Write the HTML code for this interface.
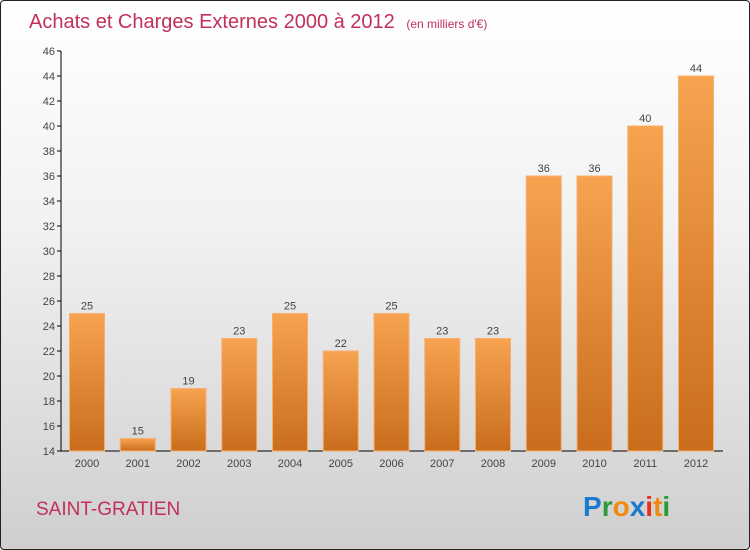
<!DOCTYPE html>
<html><head><meta charset="utf-8"><style>
body{margin:0}
#c{width:748px;height:548px;border:1px solid #222;border-radius:4px;background:linear-gradient(#ffffff,#f2f2f2 40%,#cfcfcf);position:relative;overflow:hidden;font-family:"Liberation Sans",sans-serif}
</style></head><body>
<div id="c">
<svg width="748" height="548" id="s">
<defs><linearGradient id="g" x1="0" y1="0" x2="0" y2="1"><stop offset="0" stop-color="#f7a350"/><stop offset="1" stop-color="#c96d1c"/></linearGradient></defs>
<text x="28" y="27" font-size="20" fill="#c0305a">Achats et Charges Externes 2000 à 2012 <tspan font-size="12" dx="6">(en milliers d'€)</tspan></text>
<text x="35" y="514" font-size="19" fill="#c0305a">SAINT-GRATIEN</text>
<g font-size="28" font-weight="bold" font-family="Liberation Sans,sans-serif">
<text x="582" y="515"><tspan fill="#1a7ad0">P</tspan><tspan fill="#2a9a3a">r</tspan><tspan fill="#f08a10">o</tspan><tspan fill="#1a7ad0">x</tspan><tspan fill="#e83020">i</tspan><tspan fill="#f08a10">t</tspan><tspan fill="#2a9a3a">i</tspan></text></g>
<g id="plot"></g>
</svg></div>
<script>
const categories=["2000","2001","2002","2003","2004","2005","2006","2007","2008","2009","2010","2011","2012"];
const values=[25,15,19,23,25,22,25,23,23,36,36,40,44];
const yTicks=[14,16,18,20,22,24,26,28,30,32,34,36,38,40,42,44,46];
const NS="http://www.w3.org/2000/svg";
const g=document.getElementById('plot');
const y=v=>450-(v-14)*12.5;
const x=i=>86+i*50.75;
function mk(t,a){const e=document.createElementNS(NS,t);for(const k in a)e.setAttribute(k,a[k]);g.appendChild(e);return e;}
let ax=mk('line',{x1:60,y1:50,x2:60,y2:450,stroke:'#000'});


let bx=mk('line',{x1:60,y1:450,x2:722,y2:450,stroke:'#000'});


yTicks.forEach(v=>{
 mk('line',{x1:56,y1:y(v),x2:60,y2:y(v),stroke:'#000'});
 const t=mk('text',{x:54,y:y(v)+4,'font-size':11,fill:'#444','text-anchor':'end'});t.textContent=v;
 
 
});
categories.forEach((c,i)=>{
 const r=mk('rect',{x:x(i)-17.5,y:y(values[i]),width:35,height:450-y(values[i]),fill:'url(#g)',stroke:'#f5b070','stroke-width':1});
 
 
 const l=mk('text',{x:x(i),y:y(values[i])-4,'font-size':11,fill:'#444','text-anchor':'middle'});l.textContent=values[i];
 
 
 const t=mk('text',{x:x(i),y:466,'font-size':11,fill:'#444','text-anchor':'middle'});t.textContent=c;
 
 
});
</script>
</body></html>
